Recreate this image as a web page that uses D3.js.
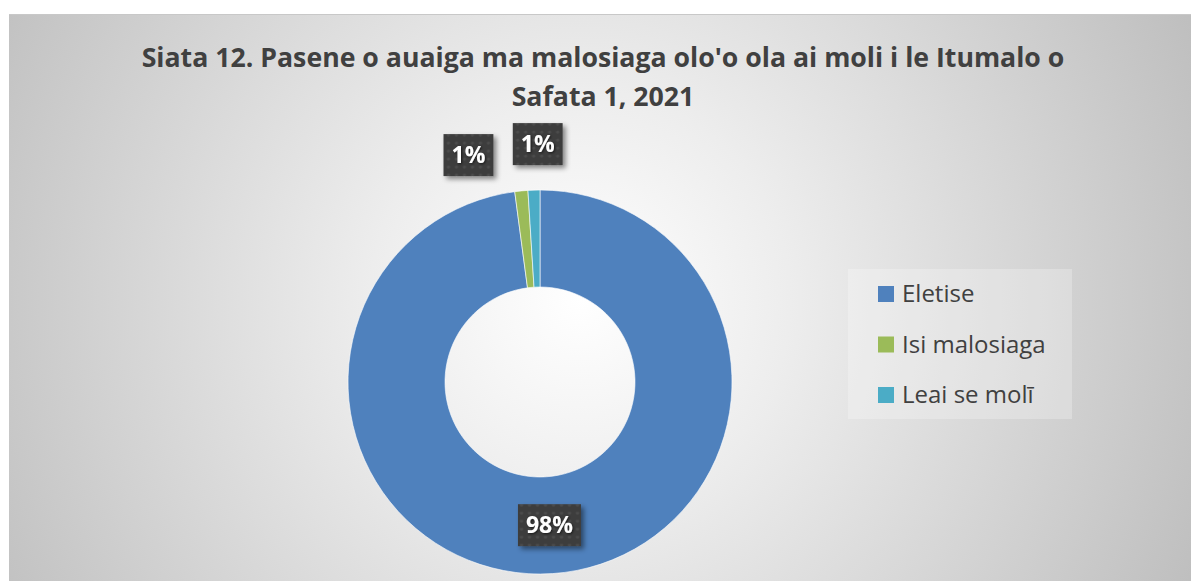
<!DOCTYPE html>
<html>
<head>
<meta charset="utf-8">
<title>Siata 12</title>
<script src="https://d3js.org/d3.v7.min.js"></script>
<style>
  body { margin: 0; background: #ffffff; }
  svg text { font-family: "Open Sans", "Noto Sans", sans-serif; }
</style>
</head>
<body>
<div id="chart"></div>
<script>
  "use strict"

  // data
  var categories = ["Eletise", "Isi malosiaga", "Leai se molī"];
  var values = [97.9, 1.1, 1.0];
  var labels = ["98%", "1%", "1%"];
  var colors = ["#4f81bd", "#9bbb59", "#4bacc6"];
  var titleLines = ["Siata 12. Pasene o auaiga ma malosiaga olo'o ola ai moli i le Itumalo o", "Safata 1, 2021"];

  var W = 1191, H = 581;
  var svg = d3.select('#chart').append('svg')
      .attr('width', W).attr('height', H);

  var defs = svg.append('defs');
  var grad = defs.append('radialGradient').attr('id', 'bg')
      .attr('gradientUnits', 'userSpaceOnUse')
      .attr('cx', 580).attr('cy', 300).attr('r', 700);
  grad.append('stop').attr('offset', '0%').attr('stop-color', '#ffffff');
  grad.append('stop').attr('offset', '30%').attr('stop-color', '#ededed');
  grad.append('stop').attr('offset', '100%').attr('stop-color', '#bcbcbc');

  var pat = defs.append('pattern').attr('id', 'dots')
      .attr('patternUnits', 'userSpaceOnUse').attr('width', 8).attr('height', 8);
  pat.append('rect').attr('width', 8).attr('height', 8).attr('fill', '#3d3d3d');
  pat.append('circle').attr('cx', 4).attr('cy', 4).attr('r', 1.6).attr('fill', '#4c4c4c');

  var shadow = defs.append('filter').attr('id', 'shadow')
      .attr('x', '-30%').attr('y', '-30%').attr('width', '170%').attr('height', '170%');
  shadow.append('feDropShadow').attr('dx', 3).attr('dy', 3).attr('stdDeviation', 2.5)
      .attr('flood-color', '#000').attr('flood-opacity', 0.45);

  var tshadow = defs.append('filter').attr('id', 'tshadow');
  tshadow.append('feDropShadow').attr('dx', 1).attr('dy', 1).attr('stdDeviation', 0.8)
      .attr('flood-color', '#000').attr('flood-opacity', 0.6);

  // chart area
  svg.append('rect').attr('x', 9).attr('y', 14).attr('width', W - 9).attr('height', H - 14)
      .attr('fill', 'url(#bg)');
  svg.append('line').attr('x1', 9).attr('x2', W).attr('y1', 14.5).attr('y2', 14.5)
      .attr('stroke', '#c8c8c8');

  // title
  var title = svg.append('text').attr('text-anchor', 'middle')
      .attr('font-weight', 'bold').attr('fill', '#404040').attr('font-size', 26);
  titleLines.forEach(function(t, i) {
    title.append('tspan').attr('x', 603).attr('y', 67 + i * 39).text(t);
  });
  // fit first line to the width seen in the reference
  var l1 = title.select('tspan').node().getComputedTextLength();
  title.attr('font-size', 26 * 923 / l1);

  // donut
  var cx = 540, cy = 382, rOut = 192, rIn = 95;
  var pie = d3.pie().sort(null).value(function(d) { return d; });
  var arcs = pie(values);
  var arc = d3.arc().innerRadius(rIn).outerRadius(rOut);

  var g = svg.append('g').attr('transform', 'translate(' + cx + ',' + cy + ')');
  g.selectAll('path').data(arcs).enter().append('path')
      .attr('d', arc)
      .attr('fill', function(d, i) { return colors[i]; })
      .attr('stroke', '#ffffff').attr('stroke-width', 0.6);

  // data labels
  var labelArc = d3.arc().innerRadius(rIn).outerRadius(rOut);
  var outerArc = d3.arc().innerRadius(232).outerRadius(232);
  var nudge = [[0, 0], [-49, 4], [5, -6]];
  arcs.forEach(function(d, i) {
    var p = i === 0 ? labelArc.centroid(d) : outerArc.centroid(d);
    var x = p[0] + nudge[i][0], y = p[1] + nudge[i][1];
    var lg = g.append('g').attr('transform', 'translate(' + x + ',' + y + ')');
    var t = lg.append('text').attr('text-anchor', 'middle').attr('dy', '0.36em')
        .attr('font-size', 23).attr('font-weight', 'bold').attr('fill', '#ffffff')
        .attr('filter', 'url(#tshadow)').text(labels[i]);
    var bw = t.node().getComputedTextLength() + 16, bh = 42;
    lg.insert('rect', 'text').attr('x', -bw / 2).attr('y', -bh / 2)
        .attr('width', bw).attr('height', bh)
        .attr('fill', 'url(#dots)').attr('filter', 'url(#shadow)');
  });

  // legend
  var legend = svg.append('g').attr('transform', 'translate(848,269)');
  legend.append('rect').attr('width', 224).attr('height', 150)
      .attr('fill', '#ffffff').attr('fill-opacity', 0.25);
  var legY = d3.scalePoint().domain(categories).range([25, 126]);
  var item = legend.selectAll('g.item').data(categories).enter().append('g')
      .attr('class', 'item')
      .attr('transform', function(d) { return 'translate(30,' + legY(d) + ')'; });
  item.append('rect').attr('x', 0).attr('y', -8).attr('width', 16).attr('height', 16)
      .attr('fill', function(d, i) { return colors[i]; });
  item.append('text').attr('x', 24).attr('dy', '0.35em')
      .attr('font-size', 24).attr('fill', '#404040')
      .text(function(d) { return d; });
</script>
</body>
</html>
